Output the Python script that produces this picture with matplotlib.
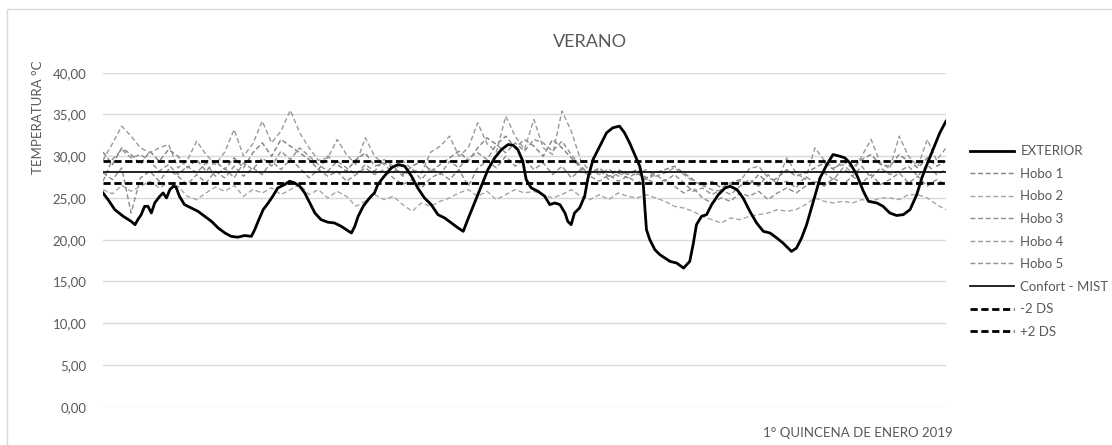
import numpy as np
import matplotlib
matplotlib.use("Agg")
import matplotlib.pyplot as plt
from matplotlib.ticker import FuncFormatter
from matplotlib.patches import Rectangle

plt.rcParams["font.family"] = ["Lato", "DejaVu Sans"]

# ---------------- data ----------------
ext_day = [0.00, 0.09, 0.21, 0.36, 0.50, 0.57, 0.62, 0.68, 0.74, 0.80, 0.86, 0.92, 1.01, 1.07, 1.13,
           1.19, 1.25, 1.30, 1.36, 1.45, 1.57, 1.69, 1.81, 1.93, 2.05, 2.17, 2.28, 2.40, 2.52, 2.64,
           2.70, 2.76, 2.85, 2.94, 3.02, 3.11, 3.23, 3.32, 3.41, 3.50, 3.59, 3.68, 3.77, 3.88, 4.00,
           4.12, 4.24, 4.33, 4.42, 4.48, 4.54, 4.63, 4.72, 4.77, 4.83, 4.89, 4.98, 5.13, 5.25, 5.37,
           5.49, 5.60, 5.72, 5.84, 5.96, 6.08, 6.20, 6.32, 6.41, 6.49, 6.61, 6.73, 6.85, 6.97, 7.09,
           7.21, 7.30, 7.38, 7.47, 7.53, 7.62, 7.74, 7.86, 7.95, 8.04, 8.13, 8.22, 8.27, 8.33, 8.39,
           8.48, 8.57, 8.63, 8.72, 8.84, 8.96, 9.07, 9.19, 9.28, 9.37, 9.46, 9.55, 9.61, 9.64, 9.67,
           9.73, 9.82, 9.91, 10.09, 10.21, 10.33, 10.44, 10.50, 10.56, 10.65, 10.74, 10.83, 10.95,
           11.07, 11.16, 11.28, 11.39, 11.51, 11.63, 11.75, 11.87, 11.99, 12.10, 12.25, 12.34, 12.43,
           12.52, 12.64, 12.76, 12.88, 12.99, 13.11, 13.20, 13.29, 13.41, 13.53, 13.62, 13.77, 13.88,
           14.00, 14.12, 14.24, 14.36, 14.48, 14.57, 14.66, 14.78, 14.89, 15.00]
ext_temp = [25.6, 24.8, 23.6, 22.8, 22.2, 21.8, 22.4, 23.0, 24.0, 24.0, 23.2, 24.4, 25.2, 25.6, 25.0,
            26.0, 26.4, 26.3, 25.2, 24.2, 23.8, 23.4, 22.8, 22.2, 21.4, 20.8, 20.4, 20.3, 20.5, 20.4,
            21.2, 22.2, 23.6, 24.4, 25.2, 26.2, 26.6, 27.0, 26.8, 26.4, 25.6, 24.4, 23.2, 22.4, 22.1,
            22.0, 21.6, 21.2, 20.8, 21.6, 22.8, 24.0, 24.8, 25.2, 25.6, 26.6, 27.4, 28.6, 29.0, 28.8,
            27.6, 26.2, 25.0, 24.2, 23.0, 22.6, 22.0, 21.4, 21.0, 22.4, 24.4, 26.4, 28.4, 29.8, 30.8,
            31.4, 31.3, 30.8, 29.4, 27.2, 26.2, 25.8, 25.2, 24.2, 24.4, 24.2, 23.2, 22.2, 21.8, 23.2,
            23.8, 25.2, 27.4, 29.6, 31.2, 32.8, 33.4, 33.6, 32.8, 31.6, 30.2, 28.8, 27.0, 24.0, 21.2,
            20.0, 18.8, 18.2, 17.4, 17.2, 16.6, 17.4, 19.4, 21.8, 22.8, 23.0, 24.2, 25.4,
            26.2, 26.4, 26.0, 25.0, 23.4, 22.0, 21.0, 20.8, 20.2, 19.6, 18.6, 19.0, 20.2,
            21.8, 24.6, 27.4, 29.0, 30.2, 30.0, 29.8, 29.2, 27.8, 25.8, 24.6, 24.4, 24.0,
            23.2, 22.9, 23.0, 23.6, 25.4, 27.4, 29.0, 31.0, 32.8, 34.2]

# Hobo readings every 4 hours (6 per day), 15 days
hobo_day = np.arange(91) / 6.0

hobo1 = [30.5, 29.0, 31.0, 30.2, 29.0, 30.6, 29.4, 30.8, 30.0, 28.6, 29.6, 28.2, 29.4, 28.4, 29.8, 28.6,
         30.4, 31.6, 30.0, 32.0, 31.2, 30.4, 29.6, 28.4, 30.0, 29.0, 28.2, 29.6, 30.4, 28.8, 29.2, 28.6,
         27.8, 28.8, 29.4, 28.2, 29.0, 29.8, 30.6, 29.4, 31.0, 32.2, 31.4, 32.4, 31.0, 32.0, 31.2, 30.0,
         32.0, 31.0, 29.8, 28.6, 28.0, 28.6, 27.6, 28.4, 27.8, 28.4, 27.4, 28.0, 28.4, 28.8, 28.0, 27.2,
         26.4, 27.0, 26.2, 26.8, 27.2, 26.6, 27.8, 26.8, 27.4, 28.4, 27.6, 28.0, 28.6, 29.2, 28.4, 29.4,
         28.6, 29.6, 30.2, 29.0, 28.8, 30.2, 29.4, 28.6, 29.8, 28.8, 29.4]
hobo2 = [26.0, 25.5, 26.5, 25.8, 26.4, 27.0, 26.2, 26.8, 26.4, 25.2, 24.8, 25.6, 26.3, 25.8, 26.5, 25.2,
         26.0, 25.6, 26.2, 25.4, 26.0, 26.6, 25.4, 26.0, 25.0, 25.8, 25.2, 24.0, 24.6, 25.4, 24.8, 25.2,
         24.2, 23.4, 24.4, 24.0, 24.6, 25.0, 25.6, 26.0, 25.2, 25.8, 24.8, 25.4, 26.0, 25.6, 25.8, 25.4,
         25.0, 25.4, 26.0, 25.2, 24.8, 25.4, 24.8, 25.6, 25.2, 25.0, 25.4, 25.0, 24.6, 24.0, 23.8, 23.4,
         22.8, 22.4, 22.0, 22.6, 22.4, 22.8, 23.0, 23.2, 23.6, 23.4, 23.6, 24.2, 25.0, 24.6, 24.4, 24.6,
         24.4, 24.8, 24.6, 25.0, 25.0, 24.8, 25.4, 25.4, 25.0, 24.2, 23.6]
hobo3 = [28.0, 27.2, 28.6, 23.2, 27.4, 28.2, 27.0, 28.4, 27.6, 26.6, 27.8, 26.8, 28.2, 27.4, 28.8, 27.6,
         28.6, 27.8, 29.4, 28.4, 29.6, 28.6, 27.4, 28.4, 27.6, 28.2, 27.0, 27.8, 28.6, 27.8, 28.4, 27.4,
         26.6, 27.2, 26.2, 27.4, 28.0, 27.2, 28.4, 26.4, 28.6, 29.4, 28.6, 30.0, 28.8, 29.6, 28.4, 29.2,
         27.8, 28.8, 27.4, 28.4, 27.6, 27.0, 27.8, 27.0, 27.6, 26.8, 27.4, 26.6, 27.2, 26.4, 25.6, 26.2,
         25.0, 24.4, 25.0, 24.6, 25.6, 25.2, 25.8, 24.8, 25.6, 26.2, 25.6, 26.4, 27.0, 26.4, 27.4, 26.6,
         27.6, 26.8, 27.8, 26.6, 27.2, 28.0, 26.8, 27.6, 26.4, 27.2, 26.6]
hobo4 = [29.5, 31.5, 33.6, 32.4, 31.0, 30.4, 31.0, 31.4, 28.6, 29.5, 31.8, 30.2, 29.0, 30.5, 33.2, 30.0,
         31.5, 34.2, 31.6, 33.0, 35.5, 32.8, 31.0, 29.5, 29.8, 32.0, 30.2, 29.0, 32.2, 30.0, 29.0, 28.0,
         29.5, 28.4, 28.0, 30.5, 31.2, 32.4, 30.0, 31.0, 34.0, 31.5, 30.5, 34.8, 32.4, 30.8, 34.4, 31.0,
         30.2, 35.4, 33.0, 29.5, 28.2, 27.8, 28.5, 27.6, 28.2, 27.8, 28.4, 27.6, 28.0, 28.6, 27.8, 27.0,
         26.5, 26.0, 25.8, 26.6, 27.0, 28.5, 28.8, 27.4, 27.0, 29.8, 28.0, 27.2, 31.0, 29.5, 28.6, 29.0,
         28.0, 30.0, 32.0, 29.2, 28.5, 32.4, 30.0, 28.8, 32.0, 29.5, 31.0]
hobo5 = [27.0, 29.6, 30.8, 29.8, 30.2, 29.4, 28.2, 29.0, 27.8, 28.8, 28.0, 29.2, 27.6, 28.6, 27.4, 29.2,
         28.4, 29.8, 28.8, 30.6, 29.6, 31.0, 30.0, 29.0, 28.2, 29.4, 28.6, 27.8, 29.0, 28.2, 29.6, 28.8,
         27.6, 28.4, 27.2, 28.6, 27.8, 29.4, 28.6, 29.8, 30.4, 29.6, 31.4, 30.4, 31.6, 30.6, 32.0, 31.6,
         30.6, 31.8, 30.2, 28.8, 27.8, 28.4, 27.2, 28.0, 27.4, 28.0, 27.2, 27.8, 27.0, 27.8, 26.8, 25.8,
         26.2, 25.4, 26.0, 25.4, 26.4, 27.2, 26.4, 27.8, 26.6, 27.0, 26.2, 27.6, 26.8, 28.0, 27.2, 28.6,
         27.6, 28.8, 27.4, 28.6, 27.8, 28.2, 28.8, 27.6, 29.0, 27.8, 28.4]

confort = 28.1
ds_minus = 26.8
ds_plus = 29.4

y_ticks = [0, 5, 10, 15, 20, 25, 30, 35, 40]
title = "VERANO"
y_label = "TEMPERATURA °C"
x_label = "1° QUINCENA DE ENERO 2019"

# ---------------- figure ----------------
W, H = 1112, 445
fig = plt.figure(figsize=(W / 100, H / 100), dpi=100)
ax = fig.add_axes([103 / W, 1 - 406.7 / H, (946 - 103) / W, (406.7 - 72.7) / H])

txt = "#595959"
grid = "#d9d9d9"

ax.plot(ext_day, ext_temp, color="black", lw=2.0, label="EXTERIOR", zorder=5)
hobo_styles = [("#7f7f7f", "Hobo 1", hobo1), ("#a6a6a6", "Hobo 2", hobo2), ("#8c8c8c", "Hobo 3", hobo3),
               ("#999999", "Hobo 4", hobo4), ("#8f8f8f", "Hobo 5", hobo5)]
for col, lab, vals in hobo_styles:
    ax.plot(hobo_day, vals, color=col, lw=1.0, linestyle=(0, (3.5, 2.0)), label=lab, zorder=3)

ax.axhline(confort, color="black", lw=1.2, label="Confort - MIST", zorder=6)
ax.axhline(ds_minus, color="black", lw=2.0, linestyle=(0, (2.6, 1.3)), label="-2 DS", zorder=6)
ax.axhline(ds_plus, color="black", lw=2.0, linestyle=(0, (2.6, 1.3)), label="+2 DS", zorder=6)

ax.set_xlim(0, 15)
ax.set_ylim(0, 40)
ax.set_yticks(y_ticks)
ax.yaxis.set_major_formatter(FuncFormatter(lambda v, p: f"{v:.2f}".replace(".", ",")))
ax.set_xticks([])
ax.grid(axis="y", color=grid, lw=1.0)
ax.set_axisbelow(True)
for s in ax.spines.values():
    s.set_visible(False)
ax.tick_params(axis="y", length=0, pad=12, labelsize=9.5, labelcolor=txt)

fig.text(590 / W, 1 - 42 / H, title, ha="center", va="center", fontsize=13, color=txt)
fig.text(38 / W, 1 - 117 / H, y_label, ha="center", va="center", rotation=90, fontsize=9.5, color=txt)
fig.text(858 / W, 1 - 433 / H, x_label, ha="center", va="center", fontsize=9.5, color=txt)

handles, labels = ax.get_legend_handles_labels()
leg = fig.legend(handles, labels, loc="center left", bbox_to_anchor=(965 / W, 1 - 241.5 / H),
                 frameon=False, fontsize=9.5, labelcolor=txt, handlelength=3.3, handletextpad=0.5,
                 labelspacing=0.8, borderaxespad=0)

fig.patches.append(Rectangle((7 / W, -0.01), 1.1, 1 - 9 / H + 0.01, transform=fig.transFigure,
                             fill=False, edgecolor="#d9d9d9", lw=1.0))

fig.savefig("out.png", dpi=100, facecolor="white")
